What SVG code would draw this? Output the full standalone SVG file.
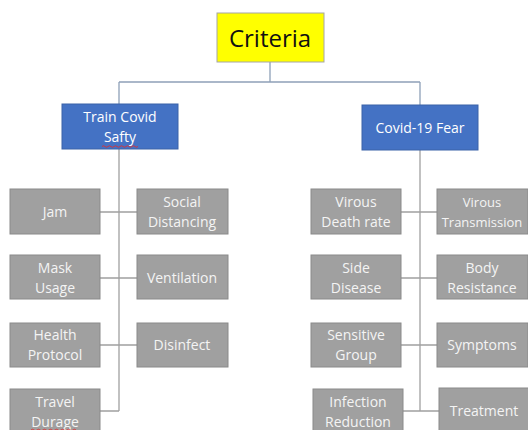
<svg xmlns="http://www.w3.org/2000/svg" width="528" height="430" viewBox="0 0 528 430">
<style>
.top{fill:#ffff00;stroke:#a6a6a6;stroke-width:1}
.blue{fill:#4472c4;stroke:#3a62a8;stroke-width:1}
.grey{fill:#a0a0a0;stroke:#8a8a8a;stroke-width:1}
.t{font-family:"Open Sans","Noto Sans",sans-serif;text-anchor:middle;font-size:14px}
.tw{fill:#f4f4f4}
.tb{fill:#ffffff}
.ln{stroke:#8ea0b8;stroke-width:1.3;fill:none}
.lg{stroke:#a0a0a0;stroke-width:1.3;fill:none}
.sq{stroke:#e03030;stroke-width:0.9;fill:none}
</style>
<rect width="528" height="430" fill="#ffffff"/>
<g id="connectors">
<path class="ln" d="M270,62 V82 M119,82 H420 M119,82 V104 M420,82 V105"/>
<path class="lg" d="M119,149 V411 M100,212 H137 M100,278 H137 M100,345 H137 M100,411 H119"/>
<path class="lg" d="M420,150 V411 M401,212 H437 M401,278 H437 M401,345 H437 M403,411 H439"/>
</g>
<g id="criteria">
<rect class="top" x="217" y="13" width="107" height="49"/>
<text x="270" y="47" style="font-family:'Open Sans','Noto Sans',sans-serif;font-size:24px;text-anchor:middle;fill:#111">Criteria</text>
</g>
<g id="train-covid-safty">
<rect class="blue" x="62" y="104" width="116" height="45"/>
<text class="t tb" x="120" y="122">Train Covid</text>
<text class="t tb" x="120" y="142">Safty</text>
<path class="sq" d="M102,146.5 q1.5,-1.5 3,0 t3,0 t3,0 t3,0 t3,0 t3,0 t3,0 t3,0 t3,0 t3,0 t3,0 t3,0"/>
</g>
<g id="covid-19-fear">
<rect class="blue" x="362" y="105" width="116" height="45"/>
<text class="t tb" x="420" y="133">Covid-19 Fear</text>
</g>
<g id="jam">
<rect class="grey" x="10" y="189" width="90" height="45"/>
<text class="t tw" x="55" y="217">Jam</text>
</g>
<g id="social-distancing">
<rect class="grey" x="137" y="189" width="91" height="45"/>
<text class="t tw" x="182" y="207">Social</text>
<text class="t tw" x="182" y="227">Distancing</text>
</g>
<g id="mask-usage">
<rect class="grey" x="10" y="255" width="90" height="44"/>
<text class="t tw" x="55" y="273">Mask</text>
<text class="t tw" x="55" y="293">Usage</text>
</g>
<g id="ventilation">
<rect class="grey" x="137" y="255" width="91" height="44"/>
<text class="t tw" x="182" y="283">Ventilation</text>
</g>
<g id="health-protocol">
<rect class="grey" x="10" y="323" width="90" height="44"/>
<text class="t tw" x="55" y="340">Health</text>
<text class="t tw" x="55" y="360">Protocol</text>
</g>
<g id="disinfect">
<rect class="grey" x="137" y="323" width="91" height="44"/>
<text class="t tw" x="182" y="350">Disinfect</text>
</g>
<g id="travel-durage">
<rect class="grey" x="10" y="389" width="90" height="45"/>
<text class="t tw" x="55" y="407">Travel</text>
<text class="t tw" x="55" y="427">Durage</text>
<path class="sq" d="M31,430 q1.5,-1.5 3,0 t3,0 t3,0 t3,0 t3,0 t3,0 t3,0 t3,0 t3,0 t3,0 t3,0 t3,0 t3,0 t3,0 t3,0"/>
</g>
<g id="virous-death-rate">
<rect class="grey" x="311" y="189" width="90" height="45"/>
<text class="t tw" x="356" y="207">Virous</text>
<text class="t tw" x="356" y="227">Death rate</text>
</g>
<g id="virous-transmission">
<rect class="grey" x="437" y="189" width="91" height="45"/>
<text class="t tw" x="482" y="207" style="font-size:13px">Virous</text>
<text class="t tw" x="482" y="227" style="font-size:13px">Transmission</text>
</g>
<g id="side-disease">
<rect class="grey" x="311" y="255" width="90" height="44"/>
<text class="t tw" x="356" y="273">Side</text>
<text class="t tw" x="356" y="293">Disease</text>
</g>
<g id="body-resistance">
<rect class="grey" x="437" y="255" width="91" height="44"/>
<text class="t tw" x="482" y="273">Body</text>
<text class="t tw" x="482" y="293">Resistance</text>
</g>
<g id="sensitive-group">
<rect class="grey" x="311" y="323" width="90" height="44"/>
<text class="t tw" x="356" y="340">Sensitive</text>
<text class="t tw" x="356" y="360">Group</text>
</g>
<g id="symptoms">
<rect class="grey" x="437" y="323" width="91" height="44"/>
<text class="t tw" x="482" y="350">Symptoms</text>
</g>
<g id="infection-reduction">
<rect class="grey" x="313" y="389" width="90" height="45"/>
<text class="t tw" x="358" y="407">Infection</text>
<text class="t tw" x="358" y="427">Reduction</text>
</g>
<g id="treatment">
<rect class="grey" x="439" y="388" width="91" height="46"/>
<text class="t tw" x="484" y="416">Treatment</text>
</g>
</svg>
